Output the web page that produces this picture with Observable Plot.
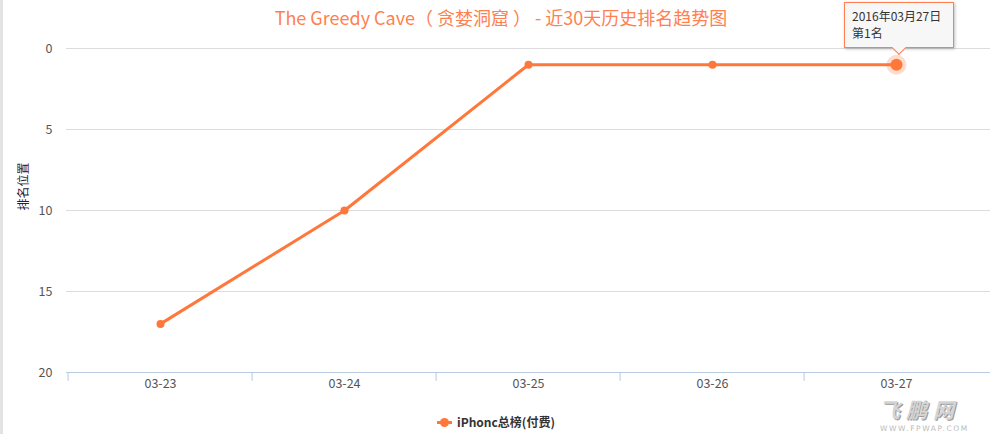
<!DOCTYPE html>
<html><head><meta charset="utf-8">
<script src="https://cdn.jsdelivr.net/npm/d3@7"></script>
<script src="https://cdn.jsdelivr.net/npm/@observablehq/plot@0.6"></script>
<style>
html,body{margin:0;padding:0;background:#fff;}
body{width:990px;height:434px;position:relative;overflow:hidden;font-family:"Noto Sans CJK SC","Noto Sans",sans-serif;}
#leftbar{position:absolute;left:0;top:0;width:3px;height:434px;background:#e3e3e3;}
#title{position:absolute;left:0;width:1002px;top:5px;text-align:center;color:#ff7f50;font-size:18px;line-height:24px;}
#legend{position:absolute;top:412px;left:437px;font-size:12px;font-weight:bold;color:#333;line-height:20px;display:flex;align-items:center;}
#legend .ic{position:relative;width:15px;height:3px;background:#ff773a;margin-right:5px;}
#legend .ic::after{content:"";position:absolute;left:3px;top:-3px;width:9px;height:9px;border-radius:50%;background:#ff773a;}
#tip{position:absolute;background:#f7f7f7;border:1px solid #ff7f50;box-shadow:1px 1px 3px rgba(0,0,0,0.25);font-size:12px;color:#333;line-height:17px;padding:4px 7px;box-sizing:border-box;white-space:nowrap;}
#tip::after{content:"";position:absolute;left:50%;bottom:-6px;width:9px;height:9px;margin-left:-5px;background:#f7f7f7;border-right:1px solid #ff7f50;border-bottom:1px solid #ff7f50;transform:rotate(45deg);}
#wm{position:absolute;left:879px;top:399px;color:#d4d4d4;font-style:italic;font-weight:bold;font-size:21px;line-height:20px;height:20px;letter-spacing:6px;text-shadow:1px 1px 0 #999;}
#wm2{position:absolute;left:880px;top:425px;color:#bbb;font-family:"DejaVu Sans",sans-serif;font-size:7.5px;line-height:8px;height:8px;letter-spacing:1.6px;}
</style></head>
<body>
<div id="leftbar"></div>
<div id="chart"></div>
<div id="title">The Greedy Cave（ 贪婪洞窟 ） - 近30天历史排名趋势图</div>
<div id="legend"><span class="ic"></span>iPhonc总榜(付费)</div>
<div id="wm">飞鹏网</div>
<div id="wm2">WWW.FPWAP.COM</div>
<script>
const dates = ["03-23","03-24","03-25","03-26","03-27"];
const ranks = [17,10,1,1,1];
const yTicks = [0,5,10,15,20];
const fullDates = ["2016年03月23日","2016年03月24日","2016年03月25日","2016年03月26日","2016年03月27日"];
const seriesName = "iPhonc总榜(付费)";
const yLabel = "排名位置";

const data = dates.map((d,i)=>({date:d, rank:ranks[i], full:fullDates[i]}));
const last = [data[data.length-1]];
const orange = "#ff773a";
const W = 990, H = 434, mL = 66, mR = 0, mT = 48, mB = 62;
const bw = (W - mL - mR) / dates.length;

const plot = Plot.plot({
  width: W, height: H,
  marginLeft: mL, marginRight: mR, marginTop: mT, marginBottom: mB,
  style: {fontFamily: '"Noto Sans CJK SC","Noto Sans",sans-serif', fontSize: "12px", background: "transparent", overflow: "visible"},
  x: {type: "band", domain: dates, padding: 0},
  y: {domain: [0,20], reverse: true},
  marks: [
    Plot.gridY(yTicks.slice(0,4), {stroke: "#dcdcdc", strokeOpacity: 1}),
    Plot.axisY({ticks: yTicks, tickSize: 0, tickPadding: 14, label: null, fill: "#555", fontSize: 12.5}),
    Plot.ruleY([20], {stroke: "#b9cbe0", strokeWidth: 1}),
    Plot.axisX({tickSize: 0, tickPadding: 7, label: null, fill: "#555", fontSize: 12.5}),
    Plot.axisX({tickSize: 9, text: null, label: null, stroke: "#b9cbe0", dx: -bw/2}),
    Plot.text([yLabel], {frameAnchor: "left", dx: -42, rotate: -90, fill: "#2a1a3a", fontSize: 12}),
    Plot.line(data, {x: "date", y: "rank", stroke: orange, strokeWidth: 3}),
    Plot.dot(data, {x: "date", y: "rank", r: 4, fill: orange}),
    Plot.dot(last, {x: "date", y: "rank", r: 10, fill: orange, fillOpacity: 0.25}),
    Plot.dot(last, {x: "date", y: "rank", r: 6, fill: orange})
  ]
});
document.getElementById("chart").appendChild(plot);

// tooltip anchored to the last point via the plot's scales
const sx = plot.scale("x"), sy = plot.scale("y");
const px = sx.apply(last[0].date) + sx.bandwidth/2;
const py = sy.apply(last[0].rank);
const tip = document.createElement("div");
tip.id = "tip";
tip.innerHTML = last[0].full + "<br>第" + last[0].rank + "名";
document.body.appendChild(tip);
const tw = 110, th = 46;
tip.style.width = tw + "px";
tip.style.height = th + "px";
tip.style.left = (px - tw/2 + 3) + "px";
tip.style.top = (py - 62) + "px";
</script>
</body></html>
